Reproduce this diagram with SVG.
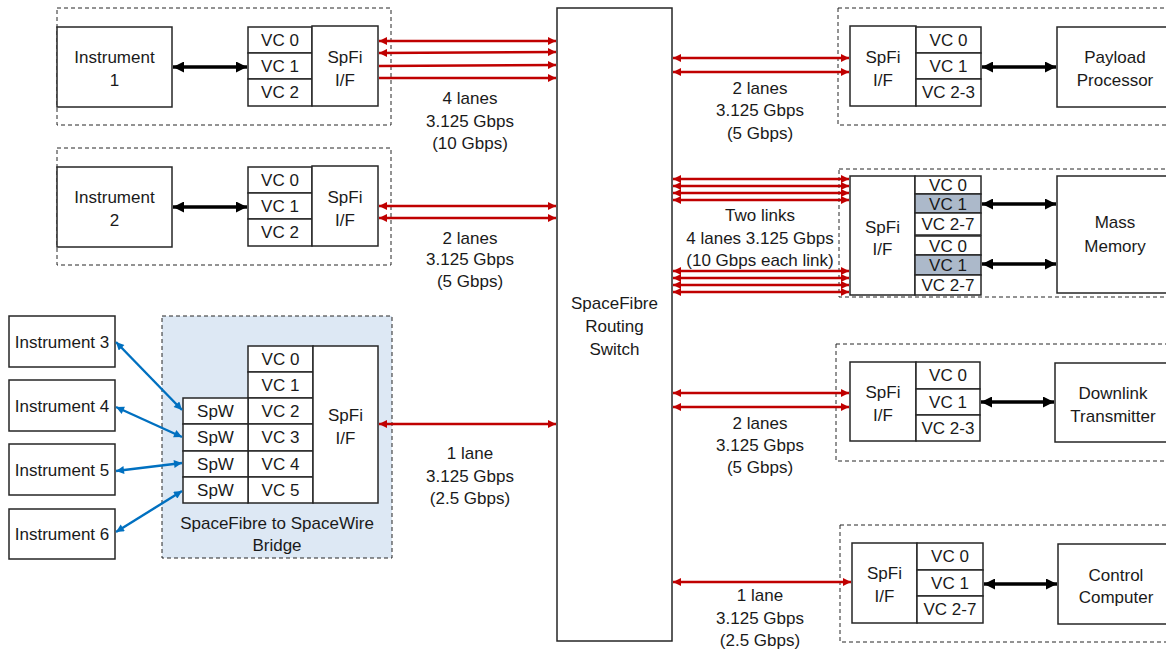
<svg xmlns="http://www.w3.org/2000/svg" width="1166" height="651" viewBox="0 0 1166 651">
<style>
text{font-family:"Liberation Sans",Arial,sans-serif;font-size:17px;fill:#1a1a1a;text-anchor:middle}
.box{fill:#fff;stroke:#262626;stroke-width:1.5}
.dash{fill:none;stroke:#262626;stroke-width:1;stroke-dasharray:4,3}
.bridge{fill:#dde8f4;stroke:#262626;stroke-width:1;stroke-dasharray:4,3}
.grey{fill:#acb9ca;stroke:#262626;stroke-width:1.5}
.red2{stroke:#c00000;stroke-width:2.6;fill:none;marker-start:url(#ra);marker-end:url(#ra)}
.red1{stroke:#c00000;stroke-width:2.6;fill:none;marker-end:url(#ra)}
.blk{stroke:#000;stroke-width:3.5;fill:none;marker-start:url(#ba);marker-end:url(#ba)}
.blu{stroke:#0070c0;stroke-width:2.4;fill:none;marker-start:url(#bl);marker-end:url(#bl)}
</style>
<defs>
<marker id="ra" viewBox="0 0 10 10" refX="10" refY="5" markerWidth="9" markerHeight="8" markerUnits="userSpaceOnUse" orient="auto-start-reverse"><path d="M0,0L10,5L0,10z" fill="#c00000"/></marker>
<marker id="ba" viewBox="0 0 10 10" refX="10" refY="5" markerWidth="12" markerHeight="11" markerUnits="userSpaceOnUse" orient="auto-start-reverse"><path d="M0,0L10,5L0,10z" fill="#000"/></marker>
<marker id="bl" viewBox="0 0 10 10" refX="10" refY="5" markerWidth="9" markerHeight="8" markerUnits="userSpaceOnUse" orient="auto-start-reverse"><path d="M0,0L10,5L0,10z" fill="#0070c0"/></marker>
</defs>

<!-- Instrument 1 subsystem -->
<g id="sub-inst1">
<rect class="dash" x="57" y="8" width="334" height="117"/>
<g id="instrument1"><rect class="box" x="57" y="27" width="115" height="80"/><text x="114.5" y="63">Instrument</text><text x="114.5" y="86">1</text></g>
<g id="inst1-vc">
<rect class="box" x="248" y="27" width="64" height="26"/><text x="280" y="46">VC 0</text>
<rect class="box" x="248" y="53" width="64" height="26"/><text x="280" y="72">VC 1</text>
<rect class="box" x="248" y="79" width="64" height="27"/><text x="280" y="98">VC 2</text>
</g>
<g id="inst1-spfi"><rect class="box" x="312" y="26" width="66" height="80"/><text x="345" y="63">SpFi</text><text x="345" y="86">I/F</text></g>
</g>

<!-- Instrument 2 subsystem -->
<g id="sub-inst2">
<rect class="dash" x="57" y="148" width="334" height="117"/>
<g id="instrument2"><rect class="box" x="57" y="167" width="115" height="80"/><text x="114.5" y="203">Instrument</text><text x="114.5" y="226">2</text></g>
<g id="inst2-vc">
<rect class="box" x="248" y="167" width="64" height="26"/><text x="280" y="186">VC 0</text>
<rect class="box" x="248" y="193" width="64" height="26"/><text x="280" y="212">VC 1</text>
<rect class="box" x="248" y="219" width="64" height="27"/><text x="280" y="238">VC 2</text>
</g>
<g id="inst2-spfi"><rect class="box" x="312" y="166" width="66" height="80"/><text x="345" y="203">SpFi</text><text x="345" y="226">I/F</text></g>
</g>

<!-- Bridge -->
<g id="bridge">
<rect class="bridge" x="162" y="316" width="230" height="242"/>
<rect class="box" x="248" y="346" width="65" height="26"/><text x="280.5" y="365">VC 0</text>
<rect class="box" x="248" y="372" width="65" height="26"/><text x="280.5" y="391">VC 1</text>
<rect class="box" x="248" y="398" width="65" height="26"/><text x="280.5" y="417">VC 2</text>
<rect class="box" x="248" y="424" width="65" height="27"/><text x="280.5" y="443">VC 3</text>
<rect class="box" x="248" y="451" width="65" height="26"/><text x="280.5" y="470">VC 4</text>
<rect class="box" x="248" y="477" width="65" height="26"/><text x="280.5" y="496">VC 5</text>
<rect class="box" x="183" y="398" width="65" height="26"/><text x="215.5" y="417">SpW</text>
<rect class="box" x="183" y="424" width="65" height="27"/><text x="215.5" y="443">SpW</text>
<rect class="box" x="183" y="451" width="65" height="26"/><text x="215.5" y="470">SpW</text>
<rect class="box" x="183" y="477" width="65" height="26"/><text x="215.5" y="496">SpW</text>
<rect class="box" x="313" y="346" width="65" height="157"/><text x="345.5" y="421">SpFi</text><text x="345.5" y="444">I/F</text>
<text x="277" y="529">SpaceFibre to SpaceWire</text><text x="277" y="551">Bridge</text>
</g>

<g id="instrument3"><rect class="box" x="9" y="316" width="106" height="51"/><text x="62" y="348">Instrument 3</text></g>
<g id="instrument4"><rect class="box" x="9" y="380" width="106" height="51"/><text x="62" y="412">Instrument 4</text></g>
<g id="instrument5"><rect class="box" x="9" y="444" width="106" height="51"/><text x="62" y="476">Instrument 5</text></g>
<g id="instrument6"><rect class="box" x="9" y="509" width="106" height="50"/><text x="62" y="540">Instrument 6</text></g>

<!-- Switch -->
<g id="switch"><rect class="box" x="557" y="8" width="115" height="633"/><text x="614.5" y="309">SpaceFibre</text><text x="614.5" y="332">Routing</text><text x="614.5" y="355">Switch</text></g>

<!-- Payload Processor subsystem -->
<g id="sub-payload">
<rect class="dash" x="838" y="8" width="340" height="117"/>
<g id="payload-spfi"><rect class="box" x="850" y="26" width="66" height="80"/><text x="883" y="63">SpFi</text><text x="883" y="86">I/F</text></g>
<g id="payload-vc">
<rect class="box" x="916" y="27" width="65" height="26"/><text x="948.5" y="46">VC 0</text>
<rect class="box" x="916" y="53" width="65" height="26"/><text x="948.5" y="72">VC 1</text>
<rect class="box" x="916" y="79" width="65" height="27"/><text x="948.5" y="98">VC 2-3</text>
</g>
<g id="payload-processor"><rect class="box" x="1057" y="27" width="116" height="80"/><text x="1115" y="63">Payload</text><text x="1115" y="86">Processor</text></g>
</g>

<!-- Mass Memory subsystem -->
<g id="sub-mass">
<rect class="dash" x="839" y="169" width="340" height="128"/>
<g id="mass-spfi"><rect class="box" x="850" y="176" width="65" height="119"/><text x="882.5" y="233">SpFi</text><text x="882.5" y="255">I/F</text></g>
<g id="mass-vc">
<rect class="box" x="915" y="176" width="66" height="18"/><text x="948" y="191">VC 0</text>
<rect class="grey" x="915" y="194" width="66" height="19"/><text x="948" y="210">VC 1</text>
<rect class="box" x="915" y="213" width="66" height="22"/><text x="948" y="230">VC 2-7</text>
<rect class="box" x="915" y="236" width="66" height="19"/><text x="948" y="252">VC 0</text>
<rect class="grey" x="915" y="255" width="66" height="20"/><text x="948" y="271">VC 1</text>
<rect class="box" x="915" y="275" width="66" height="20"/><text x="948" y="291">VC 2-7</text>
</g>
<g id="mass-memory"><rect class="box" x="1057" y="176" width="116" height="117"/><text x="1115" y="228">Mass</text><text x="1115" y="252">Memory</text></g>
</g>

<!-- Downlink subsystem -->
<g id="sub-downlink">
<rect class="dash" x="836" y="344" width="340" height="117"/>
<g id="downlink-spfi"><rect class="box" x="850" y="362" width="66" height="79"/><text x="883" y="398">SpFi</text><text x="883" y="421">I/F</text></g>
<g id="downlink-vc">
<rect class="box" x="916" y="362" width="64" height="27"/><text x="948" y="381">VC 0</text>
<rect class="box" x="916" y="389" width="64" height="26"/><text x="948" y="408">VC 1</text>
<rect class="box" x="916" y="415" width="64" height="26"/><text x="948" y="434">VC 2-3</text>
</g>
<g id="downlink-transmitter"><rect class="box" x="1055" y="363" width="118" height="79"/><text x="1113" y="399">Downlink</text><text x="1113" y="422">Transmitter</text></g>
</g>

<!-- Control Computer subsystem -->
<g id="sub-control">
<rect class="dash" x="840" y="525" width="340" height="117"/>
<g id="control-spfi"><rect class="box" x="852" y="543" width="65" height="80"/><text x="884.5" y="579">SpFi</text><text x="884.5" y="602">I/F</text></g>
<g id="control-vc">
<rect class="box" x="917" y="543" width="66" height="27"/><text x="950" y="562">VC 0</text>
<rect class="box" x="917" y="570" width="66" height="26"/><text x="950" y="589">VC 1</text>
<rect class="box" x="917" y="596" width="66" height="27"/><text x="950" y="615">VC 2-7</text>
</g>
<g id="control-computer"><rect class="box" x="1058" y="544" width="116" height="80"/><text x="1116" y="581">Control</text><text x="1116" y="603">Computer</text></g>
</g>

<!-- Connectors -->
<g id="connectors">
<line class="blk" x1="173" y1="67" x2="247" y2="67"/>
<line class="blk" x1="173" y1="207" x2="247" y2="207"/>
<line class="blk" x1="982" y1="67" x2="1056" y2="67"/>
<line class="blk" x1="982" y1="204" x2="1056" y2="204"/>
<line class="blk" x1="982" y1="264" x2="1056" y2="264"/>
<line class="blk" x1="981" y1="402" x2="1054" y2="402"/>
<line class="blk" x1="984" y1="584" x2="1057" y2="584"/>

<line class="blu" x1="116" y1="342" x2="182" y2="410"/>
<line class="blu" x1="116" y1="407" x2="182" y2="437"/>
<line class="blu" x1="116" y1="471" x2="182" y2="463"/>
<line class="blu" x1="116" y1="532" x2="182" y2="491"/>

<line class="red2" x1="379" y1="41" x2="556" y2="41"/>
<line class="red2" x1="379" y1="53" x2="556" y2="52"/>
<line class="red1" x1="379" y1="66" x2="556" y2="65"/>
<line class="red1" x1="379" y1="78" x2="556" y2="78"/>
<line class="red2" x1="379" y1="206" x2="556" y2="206"/>
<line class="red2" x1="379" y1="218" x2="556" y2="218"/>
<line class="red2" x1="379" y1="424" x2="556" y2="424"/>

<line class="red2" x1="673" y1="58" x2="849" y2="58"/>
<line class="red2" x1="673" y1="72" x2="849" y2="72"/>
<line class="red2" x1="673" y1="179" x2="849" y2="179"/>
<line class="red2" x1="673" y1="186" x2="849" y2="186"/>
<line class="red2" x1="673" y1="193" x2="849" y2="193"/>
<line class="red2" x1="673" y1="200" x2="849" y2="200"/>
<line class="red2" x1="673" y1="271" x2="849" y2="271"/>
<line class="red2" x1="673" y1="278" x2="849" y2="278"/>
<line class="red2" x1="673" y1="285" x2="849" y2="285"/>
<line class="red2" x1="673" y1="292" x2="849" y2="292"/>
<line class="red2" x1="673" y1="393" x2="849" y2="393"/>
<line class="red2" x1="673" y1="407" x2="849" y2="407"/>
<line class="red2" x1="673" y1="582" x2="851" y2="582"/>
</g>

<!-- Link labels -->
<g id="link-labels">
<text x="470" y="104">4 lanes</text><text x="470" y="127">3.125 Gbps</text><text x="470" y="149">(10 Gbps)</text>
<text x="470" y="244">2 lanes</text><text x="470" y="265">3.125 Gbps</text><text x="470" y="287">(5 Gbps)</text>
<text x="470" y="459">1 lane</text><text x="470" y="482">3.125 Gbps</text><text x="470" y="504">(2.5 Gbps)</text>
<text x="760" y="94">2 lanes</text><text x="760" y="116">3.125 Gbps</text><text x="760" y="139">(5 Gbps)</text>
<text x="760" y="221">Two links</text><text x="760" y="244">4 lanes 3.125 Gbps</text><text x="760" y="266">(10 Gbps each link)</text>
<text x="760" y="429">2 lanes</text><text x="760" y="451">3.125 Gbps</text><text x="760" y="473">(5 Gbps)</text>
<text x="760" y="601">1 lane</text><text x="760" y="624">3.125 Gbps</text><text x="760" y="646">(2.5 Gbps)</text>
</g>
</svg>
